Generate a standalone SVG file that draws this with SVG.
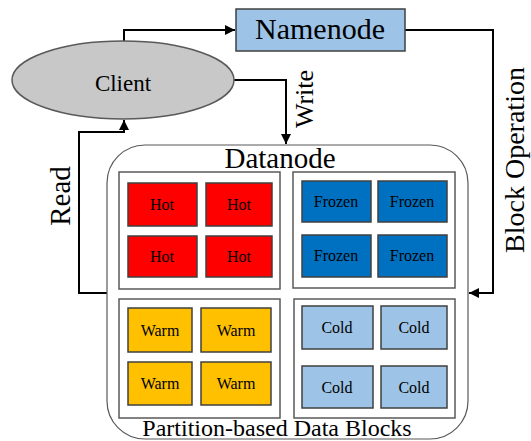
<svg xmlns="http://www.w3.org/2000/svg" width="531" height="441" viewBox="0 0 531 441">
<defs>
<style>
text{font-family:"Liberation Serif","Times New Roman",serif;fill:#000;}
.blk{stroke:#404040;stroke-width:1.5;}
.hot{fill:#FF0000;}
.frz{fill:#0070C0;}
.warm{fill:#FFC000;}
.cold{fill:#9DC3E6;}
.quad{fill:#fff;stroke:#595959;stroke-width:1.5;}
.bt{font-size:16px;text-anchor:middle;}
.conn{fill:none;stroke:#000;stroke-width:2;}
.lbl{text-anchor:middle;}
</style>
<marker id="ah" viewBox="0 0 10 10" refX="10" refY="5" markerWidth="5" markerHeight="5" markerUnits="strokeWidth" orient="auto">
<path d="M0,0 L10,5 L0,10 z" fill="#000"/>
</marker>
</defs>
<rect width="531" height="441" fill="#fff"/>
<g id="connectors">
<path class="conn" d="M124,42 V30 H235" marker-end="url(#ah)"/>
<path class="conn" d="M405,30 H493 V293 H469" marker-end="url(#ah)"/>
<path class="conn" d="M234,80 H286 V144" marker-end="url(#ah)"/>
<path class="conn" d="M107,293 H79 V132 H124 V120" marker-end="url(#ah)"/>
<text class="lbl" font-size="26" transform="translate(313,99) rotate(-90)">Write</text>
<text class="lbl" font-size="29" transform="translate(70,196) rotate(-90)">Read</text>
<text class="lbl" font-size="28" transform="translate(524,160) rotate(-90)">Block Operation</text>
</g>
<g id="client">
<ellipse cx="123" cy="80" rx="111" ry="39" fill="#C8C8C8" stroke="#595959" stroke-width="1.5"/>
<text x="123" y="91" font-size="23" text-anchor="middle">Client</text>
</g>
<g id="namenode">
<rect x="236" y="9" width="169" height="42" fill="#9DC3E6" stroke="#404040" stroke-width="1.5"/>
<text x="320" y="39" font-size="30" text-anchor="middle">Namenode</text>
</g>
<g id="datanode">
<rect x="107" y="145" width="361" height="294" rx="38" ry="38" fill="#fff" stroke="#595959" stroke-width="1.2"/>
<text x="280" y="168" font-size="29" text-anchor="middle">Datanode</text>
<text x="277" y="436" font-size="24" text-anchor="middle">Partition-based Data Blocks</text>
</g>
<g id="hot-partition">
<rect class="quad" x="119" y="172" width="161" height="117"/>
<rect class="blk hot" x="128" y="183" width="69" height="43"/>
<rect class="blk hot" x="206" y="183" width="66" height="43"/>
<rect class="blk hot" x="128" y="236" width="69" height="41"/>
<rect class="blk hot" x="206" y="236" width="66" height="41"/>
<text class="bt" x="162" y="210">Hot</text>
<text class="bt" x="239" y="210">Hot</text>
<text class="bt" x="162" y="262">Hot</text>
<text class="bt" x="239" y="262">Hot</text>
</g>
<g id="frozen-partition">
<rect class="quad" x="293" y="172" width="162" height="116"/>
<rect class="blk frz" x="302" y="181" width="69" height="41"/>
<rect class="blk frz" x="378" y="181" width="69" height="41"/>
<rect class="blk frz" x="302" y="235" width="69" height="42"/>
<rect class="blk frz" x="378" y="235" width="69" height="42"/>
<text class="bt" x="336" y="207">Frozen</text>
<text class="bt" x="412" y="207">Frozen</text>
<text class="bt" x="336" y="261">Frozen</text>
<text class="bt" x="412" y="261">Frozen</text>
</g>
<g id="warm-partition">
<rect class="quad" x="119" y="299" width="161" height="119"/>
<rect class="blk warm" x="128" y="308" width="64" height="44"/>
<rect class="blk warm" x="201" y="308" width="70" height="44"/>
<rect class="blk warm" x="128" y="362" width="64" height="43"/>
<rect class="blk warm" x="201" y="362" width="70" height="43"/>
<text class="bt" x="160" y="336">Warm</text>
<text class="bt" x="236" y="336">Warm</text>
<text class="bt" x="160" y="389">Warm</text>
<text class="bt" x="236" y="389">Warm</text>
</g>
<g id="cold-partition">
<rect class="quad" x="294" y="299" width="161" height="119"/>
<rect class="blk cold" x="302" y="306" width="71" height="43"/>
<rect class="blk cold" x="381" y="306" width="66" height="43"/>
<rect class="blk cold" x="302" y="366" width="71" height="42"/>
<rect class="blk cold" x="381" y="366" width="66" height="42"/>
<text class="bt" x="337" y="333">Cold</text>
<text class="bt" x="414" y="333">Cold</text>
<text class="bt" x="337" y="393">Cold</text>
<text class="bt" x="414" y="393">Cold</text>
</g>
</svg>
